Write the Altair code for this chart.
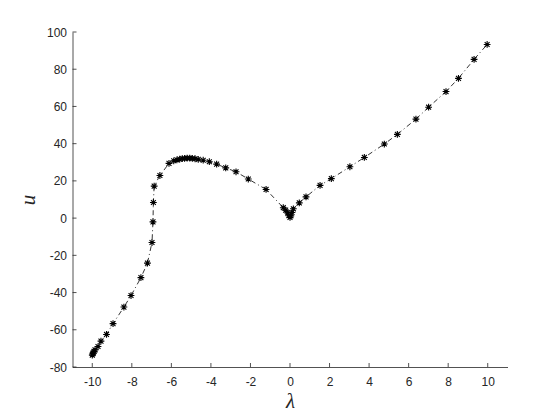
import altair as alt
import pandas as pd

# lambda values along the curve (in drawing order)
lam = [-10.0, -9.98, -9.95, -9.91, -9.86, -9.71, -9.56, -9.28, -8.95, -8.40, -8.04,
       -7.54, -7.21, -6.98, -6.93, -6.91, -6.87, -6.58, -6.12, -5.88, -5.72, -5.58,
       -5.45, -5.33, -5.20, -5.07, -4.94, -4.80, -4.64, -4.39, -4.08, -3.71, -3.25,
       -2.73, -2.11, -1.21, -0.34, -0.22, -0.12, -0.05, 0.0, 0.04, 0.10, 0.17, 0.47,
       0.81, 1.52, 2.09, 3.03, 3.76, 4.77, 5.43, 6.37, 7.01, 7.89, 8.52, 9.31, 9.97]
# u values
u = [-73.6, -73.0, -72.4, -71.6, -70.8, -69.0, -66.1, -62.5, -56.7, -47.8, -41.6,
     -32.0, -24.2, -13.1, -2.0, 8.4, 17.2, 22.9, 29.4, 30.8, 31.3, 31.7,
     32.0, 32.1, 32.2, 32.2, 32.1, 31.9, 31.6, 31.1, 30.3, 29.0, 27.0,
     24.9, 21.0, 15.4, 5.6, 4.3, 2.8, 1.3, 0.4, 1.2, 3.0, 5.0, 8.2,
     11.4, 17.6, 21.2, 27.6, 32.6, 39.8, 45.0, 53.2, 59.6, 68.0, 75.1, 85.3, 93.3]

x_ticks = [-10, -8, -6, -4, -2, 0, 2, 4, 6, 8, 10]
y_ticks = [-80, -60, -40, -20, 0, 20, 40, 60, 80, 100]

df = pd.DataFrame({"lam": lam, "u": u, "i": list(range(len(lam)))})
xt = pd.DataFrame({"lam": x_ticks})
yt = pd.DataFrame({"u": y_ticks})

W, H = 435, 335
AX = "#262626"
ASTERISK = "M-1,0L1,0M0,-1L0,1M-0.72,-0.72L0.72,0.72M-0.72,0.72L0.72,-0.72"
LBL = "(datum.value < 0 ? '-' : '') + abs(datum.value)"

xs = alt.Scale(domain=[-11, 11], nice=False, zero=False)
ys = alt.Scale(domain=[-80, 100], nice=False, zero=False)

xaxis = alt.Axis(values=x_ticks, title="λ", ticks=False, grid=False,
                 labelPadding=9, titlePadding=3, labelExpr=LBL)
yaxis = alt.Axis(values=y_ticks, title="u", ticks=False, grid=False,
                 labelPadding=6, titlePadding=8, labelExpr=LBL)

line = alt.Chart(df).mark_line(color="black", strokeWidth=0.8,
                               strokeDash=[5, 3, 1, 3]).encode(
    x=alt.X("lam:Q", scale=xs, axis=xaxis),
    y=alt.Y("u:Q", scale=ys, axis=yaxis),
    order=alt.Order("i:Q"),
)

pts = alt.Chart(df).mark_point(shape=ASTERISK, size=46, filled=False,
                               stroke="black", strokeWidth=1.1, opacity=1).encode(
    x=alt.X("lam:Q", scale=xs, axis=xaxis),
    y=alt.Y("u:Q", scale=ys, axis=yaxis),
)

xtick = alt.Chart(xt).mark_rule(color=AX, strokeWidth=0.8).encode(
    x=alt.X("lam:Q", scale=xs, axis=xaxis),
    y=alt.value(H),
    y2=alt.value(H - 4),
)
ytick = alt.Chart(yt).mark_rule(color=AX, strokeWidth=0.8).encode(
    y=alt.Y("u:Q", scale=ys, axis=yaxis),
    x=alt.value(0),
    x2=alt.value(4),
)

chart = alt.layer(line, pts, xtick, ytick).properties(
    width=W, height=H,
    autosize=alt.AutoSizeParams(type="none"),
    padding={"left": 64.5, "top": 24, "right": 30, "bottom": 45},
).configure_view(stroke=None).configure_axis(
    domainColor=AX, domainWidth=0.8,
    labelColor=AX, labelFont="Liberation Sans", labelFontSize=12,
    titleColor=AX, titleFont="Liberation Serif", titleFontStyle="italic",
    titleFontWeight="normal", titleFontSize=21,
)

chart.save("out.html", embed_options={"renderer": "svg", "actions": False})
